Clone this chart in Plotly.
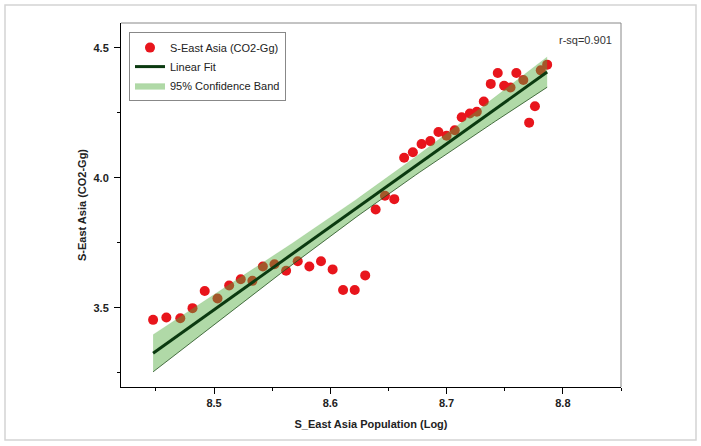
import numpy as np
import plotly.graph_objects as go

population_log = [8.4476, 8.459, 8.471, 8.4815, 8.492, 8.503, 8.513, 8.523, 8.533, 8.542,
                  8.552, 8.562, 8.572, 8.582, 8.592, 8.602, 8.611, 8.621, 8.630, 8.639,
                  8.647, 8.655, 8.6635, 8.671, 8.6785, 8.686, 8.693, 8.700, 8.707, 8.713,
                  8.720, 8.726, 8.732, 8.738, 8.744, 8.7495, 8.755, 8.760, 8.766, 8.771,
                  8.776, 8.781, 8.7865]
co2_log = [3.454, 3.463, 3.460, 3.499, 3.565, 3.536, 3.586, 3.610, 3.604, 3.659,
           3.668, 3.643, 3.679, 3.659, 3.679, 3.648, 3.569, 3.569, 3.625, 3.878,
           3.931, 3.918, 4.077, 4.098, 4.130, 4.141, 4.176, 4.162, 4.183, 4.233,
           4.247, 4.254, 4.293, 4.361, 4.403, 4.354, 4.347, 4.403, 4.376, 4.212,
           4.275, 4.413, 4.435]
rsq_label = "r-sq=0.901"
series_name = "S-East Asia (CO2-Gg)"
fit_name = "Linear Fit"
band_name = "95% Confidence Band"
x_ticks = [8.5, 8.6, 8.7, 8.8]
y_ticks = [3.5, 4.0, 4.5]

x = np.array(population_log)
y = np.array(co2_log)
n = len(x)
b1, b0 = np.polyfit(x, y, 1)
xf = np.linspace(x.min(), x.max(), 100)
yf = b0 + b1 * xf
resid = y - (b0 + b1 * x)
s = np.sqrt(np.sum(resid ** 2) / (n - 2))
sxx = np.sum((x - x.mean()) ** 2)
tval = 2.0195
se = s * np.sqrt(1.0 / n + (xf - x.mean()) ** 2 / sxx)
lo = yf - tval * se
hi = yf + tval * se

FONT = "Liberation Sans, Arial, sans-serif"
fig = go.Figure()
fig.add_trace(go.Scatter(x=x, y=y, mode="markers", name=series_name, legendrank=1,
                         marker=dict(color="#e8151c", size=10, line=dict(width=0))))
fig.add_trace(go.Scatter(x=xf, y=lo, mode="lines", showlegend=False, hoverinfo="skip",
                         line=dict(color="#1f4d1a", width=0.8)))
fig.add_trace(go.Scatter(x=xf, y=hi, mode="lines", name=band_name, legendrank=3, fill="tonexty",
                         fillcolor="rgba(80,170,60,0.45)", line=dict(color="rgba(80,170,60,0.3)", width=0.5)))
fig.add_trace(go.Scatter(x=xf, y=yf, mode="lines", name=fit_name, legendrank=2,
                         line=dict(color="#0b3a10", width=3)))

axis_common = dict(showline=True, linecolor="black", linewidth=1, ticks="outside", ticklen=6,
                   tickwidth=1, tickcolor="black", showgrid=False, zeroline=False,
                   tickfont=dict(family=FONT, size=11, color="#222"), title_font=dict(family=FONT, size=11, color="#222"))
fig.update_xaxes(**axis_common, range=[8.42, 8.85], tickvals=x_ticks, ticktext=[f"<b>{v:.1f}</b>" for v in x_ticks],
                 minor=dict(ticks="outside", ticklen=3, tick0=8.45, dtick=0.1, tickcolor="black"),
                 title=dict(text="<b>S_East Asia Population (Log)</b>", standoff=12))
fig.update_yaxes(**axis_common, range=[3.196, 4.595], tickvals=y_ticks, ticktext=[f"<b>{v:.1f}</b>" for v in y_ticks],
                 minor=dict(ticks="outside", ticklen=3, tick0=3.25, dtick=0.5, tickcolor="black"),
                 ticklabelstandoff=3,
                 title=dict(text="<b>S-East Asia (CO2-Gg)</b>", standoff=4))

fig.update_layout(
    width=701, height=446, margin=dict(l=121, r=80, t=23, b=59),
    paper_bgcolor="white", plot_bgcolor="white",
    font=dict(family=FONT, size=11, color="#222"),
    legend=dict(x=0.016, y=0.975, xanchor="left", yanchor="top", bgcolor="white",
                bordercolor="#888", borderwidth=1, font=dict(size=11, family=FONT, color="#222"),
                itemwidth=30, tracegroupgap=0, traceorder="normal"),
    shapes=[
        dict(type="line", xref="paper", yref="paper", x0=0, x1=1, y0=1, y1=1, line=dict(color="#888", width=1)),
        dict(type="line", xref="paper", yref="paper", x0=1, x1=1, y0=0, y1=1, line=dict(color="#888", width=1)),
        dict(type="rect", xref="paper", yref="paper", x0=-0.232, x1=1.15, y0=-0.1456, y1=1.0495,
             line=dict(color="#d4d4d4", width=1.5), layer="below"),
    ],
    annotations=[dict(text=rsq_label, xref="paper", yref="paper", x=0.985, y=0.975, xanchor="right",
                      yanchor="top", showarrow=False, font=dict(family=FONT, size=11, color="#333"))],
)
fig.write_html("out.html", config={"displayModeBar": False},
               post_script="document.body.style.margin='0';")
